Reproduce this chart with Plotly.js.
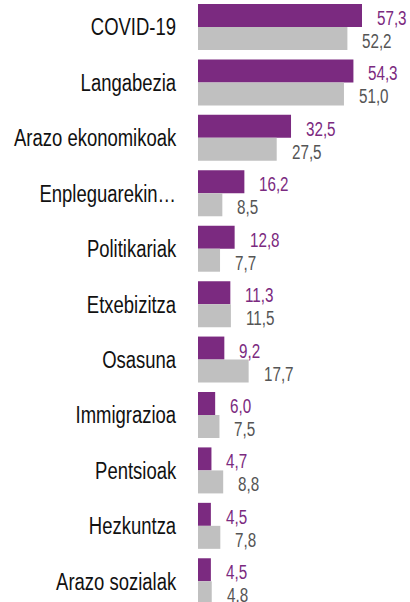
<!DOCTYPE html>
<html>
<head>
<meta charset="utf-8">
<script src="https://cdn.plot.ly/plotly-3.0.1.min.js"></script>
<style>html,body{margin:0;padding:0;background:#fff;}#chart{width:410px;height:602px;}</style>
</head>
<body>
<div id="chart"></div>
<script>
const categories = ["COVID-19","Langabezia","Arazo ekonomikoak","Enpleguarekin…","Politikariak","Etxebizitza","Osasuna","Immigrazioa","Pentsioak","Hezkuntza","Arazo sozialak"];
const seriesA = [57.3,54.3,32.5,16.2,12.8,11.3,9.2,6.0,4.7,4.5,4.5];
const seriesB = [52.2,51.0,27.5,8.5,7.7,11.5,17.7,7.5,8.8,7.8,4.8];

const PURPLE = "#7B2A80";
const GRAY = "#C0C0C0";
const FONT = "'Liberation Sans', Arial, sans-serif";
const fmt = v => v.toFixed(1).replace('.', ',');

const traces = [
  {type:'bar', orientation:'h', y:categories, x:seriesA, marker:{color:PURPLE, line:{width:0}}, hoverinfo:'skip', name:'A'},
  {type:'bar', orientation:'h', y:categories, x:seriesB, marker:{color:GRAY, line:{width:0}}, hoverinfo:'skip', name:'B'}
];

const annotations = [];
categories.forEach((c,i) => {
  annotations.push({x:seriesA[i], y:c, xref:'x', yref:'y', text:fmt(seriesA[i]), showarrow:false, xanchor:'left', yanchor:'middle', xshift:13, yshift:9, font:{family:FONT, size:19.5, color:PURPLE}});
  annotations.push({x:seriesB[i], y:c, xref:'x', yref:'y', text:fmt(seriesB[i]), showarrow:false, xanchor:'left', yanchor:'middle', xshift:13, yshift:-14, font:{family:FONT, size:19.5, color:'#555555'}});
});

const layout = {
  width:410, height:602,
  margin:{l:198, r:0, t:0, b:0, pad:0},
  paper_bgcolor:'#fff', plot_bgcolor:'#fff',
  barmode:'group', bargap:0.17, bargroupgap:0,
  showlegend:false,
  xaxis:{range:[0,74.07], visible:false, fixedrange:true},
  yaxis:{type:'category', categoryorder:'array', categoryarray:categories, range:[10.374,-0.487],
         showgrid:false, zeroline:false, showline:false, ticks:'', ticklabelstandoff:21,
         tickfont:{family:FONT, size:24, color:'#111'}},
  annotations:annotations
};

function condense(el, s, anchorRight) {
  const b = el.getBBox();
  const ax = anchorRight ? b.x + b.width : b.x;
  const tr = el.getAttribute('transform') || '';
  el.setAttribute('transform', tr + ' translate(' + ax + ',0) scale(' + s + ',1) translate(' + (-ax) + ',0)');
}

Plotly.newPlot('chart', traces, layout, {staticPlot:true, displayModeBar:false}).then(gd => {
  gd.querySelectorAll('.ytick text').forEach(t => condense(t, 0.77, true));
  gd.querySelectorAll('.annotation-text').forEach(t => condense(t, 0.78, false));
});
</script>
</body>
</html>
